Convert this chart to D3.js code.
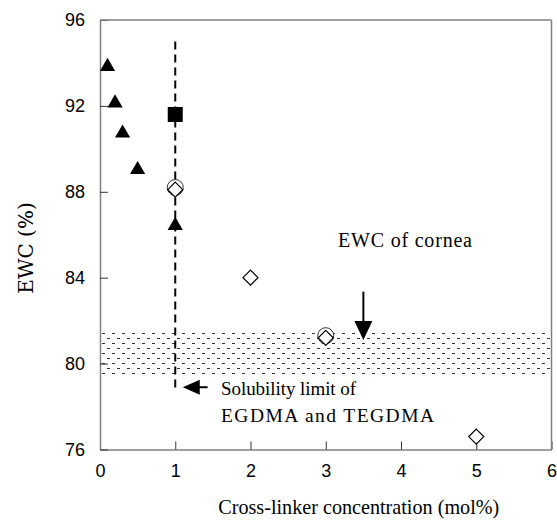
<!DOCTYPE html>
<html>
<head>
<meta charset="utf-8">
<script src="https://cdn.jsdelivr.net/npm/d3@7"></script>
<style>
  html, body { margin: 0; padding: 0; background: #fff; }
  svg { display: block; }
  .tick text { font-family: "Liberation Sans", Arial, sans-serif; font-size: 18px; fill: #000; }
  .serif { font-family: "Liberation Serif", "DejaVu Serif", serif; fill: #000; }
  .wide { font-family: "DejaVu Serif", "Liberation Serif", serif; fill: #000; }
</style>
</head>
<body>
<svg id="chart" width="557" height="520"></svg>
<script>
// Cross-linker concentration (mol%) vs equilibrium water content (%)
const triangleX = [0.1, 0.2, 0.3, 0.5, 1];
const triangleY = [93.9, 92.2, 90.8, 89.1, 86.5];
const squareX = [1];
const squareY = [91.6];
const circleX = [1, 3];
const circleY = [88.2, 81.3];
const diamondX = [1, 2, 3, 5];
const diamondY = [88.1, 84.0, 81.2, 76.6];

const xTicks = [0, 1, 2, 3, 4, 5, 6];
const yTicks = [76, 80, 84, 88, 92, 96];

// cornea EWC band and annotation anchors (data units)
const corneaBand = [79.4, 81.45];
const solubilityLine = { x: 1, y0: 78.75, y1: 95 };
const corneaArrow = { x: 3.5, yFrom: 83.35, yTo: 81.1 };
const solubilityArrow = { y: 78.9, xFrom: 1.43, xTo: 1.1 };

const svg = d3.select("#chart");
const plotLeft = 100, plotRight = 551.5, plotTop = 20, plotBottom = 449.5;

const x = d3.scaleLinear().domain([0, 6]).range([plotLeft, plotRight]);
const y = d3.scaleLinear().domain([76, 96]).range([plotBottom, plotTop]);

// staggered dash fill for the cornea band
const defs = svg.append("defs");
const pat = defs.append("pattern")
  .attr("id", "band")
  .attr("patternUnits", "userSpaceOnUse")
  .attr("x", plotLeft + 2).attr("y", Math.round(y(corneaBand[1]) + 1))
  .attr("width", 10).attr("height", 10);
pat.append("rect").attr("x", 0).attr("y", 0).attr("width", 3).attr("height", 1).attr("fill", "#333");
pat.append("rect").attr("x", 5).attr("y", 5).attr("width", 3).attr("height", 1).attr("fill", "#333");

svg.append("rect")
  .attr("x", x(0) + 1)
  .attr("y", y(corneaBand[1]))
  .attr("width", x(6) - x(0) - 2)
  .attr("height", y(corneaBand[0]) - y(corneaBand[1]))
  .attr("fill", "url(#band)");

// axes (ticks inside the frame)
const axisColor = "#808080";
const xAxis = svg.append("g")
  .attr("transform", `translate(0,${plotBottom})`)
  .call(d3.axisBottom(x).tickValues(xTicks).tickFormat(d3.format("d")).tickSizeInner(-8).tickSizeOuter(0).tickPadding(15));
const yAxis = svg.append("g")
  .attr("transform", `translate(${plotLeft},0)`)
  .call(d3.axisLeft(y).tickValues(yTicks).tickFormat(d3.format("d")).tickSizeInner(-8).tickSizeOuter(0).tickPadding(15));
[xAxis, yAxis].forEach(g => {
  g.select(".domain").attr("stroke", axisColor).attr("stroke-width", 1.5);
  g.selectAll(".tick line").attr("stroke", "#333").attr("stroke-width", 1);
});
xAxis.selectAll(".tick text").attr("dy", "0.71em");

// frame top and right
svg.append("line").attr("x1", plotLeft).attr("x2", plotRight).attr("y1", plotTop).attr("y2", plotTop)
  .attr("stroke", axisColor).attr("stroke-width", 1.5);
svg.append("line").attr("x1", plotRight).attr("x2", plotRight).attr("y1", plotTop).attr("y2", plotBottom)
  .attr("stroke", axisColor).attr("stroke-width", 1.5);

// solubility limit line
svg.append("line")
  .attr("x1", x(solubilityLine.x)).attr("x2", x(solubilityLine.x))
  .attr("y1", y(solubilityLine.y1)).attr("y2", y(solubilityLine.y0))
  .attr("stroke", "#000").attr("stroke-width", 2).attr("stroke-dasharray", "8,5");

// markers
const tri = d3.symbol().type(d3.symbolTriangle).size(100);
svg.append("g").selectAll("path").data(triangleX.map((d, i) => [d, triangleY[i]]))
  .join("path")
  .attr("transform", d => `translate(${x(d[0])},${y(d[1]) + 1.5})`)
  .attr("d", tri).attr("fill", "#000");

svg.append("g").selectAll("rect").data(squareX.map((d, i) => [d, squareY[i]]))
  .join("rect")
  .attr("x", d => x(d[0]) - 7.5).attr("y", d => y(d[1]) - 7.5)
  .attr("width", 15).attr("height", 15).attr("fill", "#000");

svg.append("g").selectAll("circle").data(circleX.map((d, i) => [d, circleY[i]]))
  .join("circle")
  .attr("cx", d => x(d[0])).attr("cy", d => y(d[1])).attr("r", 8)
  .attr("fill", "#fff").attr("stroke", "#333").attr("stroke-width", 1);

svg.append("g").selectAll("path").data(diamondX.map((d, i) => [d, diamondY[i]]))
  .join("path")
  .attr("transform", d => `translate(${x(d[0])},${y(d[1])})`)
  .attr("d", "M0,-7.5L7.5,0L0,7.5L-7.5,0Z")
  .attr("fill", "#fff").attr("stroke", "#000").attr("stroke-width", 1.2);

// cornea arrow (pointing down)
const ax = x(corneaArrow.x), ay0 = y(corneaArrow.yFrom), ay1 = y(corneaArrow.yTo);
svg.append("line").attr("x1", ax).attr("x2", ax).attr("y1", ay0).attr("y2", ay1 - 18)
  .attr("stroke", "#000").attr("stroke-width", 2);
svg.append("path").attr("d", `M${ax - 9},${ay1 - 19}L${ax + 9},${ay1 - 19}L${ax},${ay1}Z`).attr("fill", "#000");

// solubility arrow (pointing left)
const sy = y(solubilityArrow.y), sx0 = x(solubilityArrow.xFrom), sx1 = x(solubilityArrow.xTo);
svg.append("line").attr("x1", sx0).attr("x2", sx1 + 16).attr("y1", sy).attr("y2", sy)
  .attr("stroke", "#000").attr("stroke-width", 2);
svg.append("path").attr("d", `M${sx1 + 17},${sy - 7.5}L${sx1 + 17},${sy + 7.5}L${sx1},${sy}Z`).attr("fill", "#000");

// annotations
const note = (tx, ty, w, fs, s) => svg.append("text").attr("class", "serif")
  .attr("x", tx).attr("y", ty).attr("textLength", w).attr("lengthAdjust", "spacing")
  .style("font-size", fs + "px").text(s);
note(338, 247, 134, 20, "EWC of cornea");
note(221, 395, 135, 19, "Solubility limit of");
note(221, 422, 213, 19.5, "EGDMA and TEGDMA");

// axis titles
svg.append("text").attr("class", "serif").attr("text-anchor", "middle")
  .attr("x", (plotLeft + plotRight) / 2 + 33).attr("y", 514).style("font-size", "21.5px")
  .attr("textLength", 281).attr("lengthAdjust", "spacingAndGlyphs")
  .text("Cross-linker concentration (mol%)");
svg.append("text").attr("class", "wide").attr("text-anchor", "middle")
  .attr("transform", `translate(33,248) rotate(-90)`).style("font-size", "20px")
  .text("EWC (%)");
</script>
</body>
</html>
